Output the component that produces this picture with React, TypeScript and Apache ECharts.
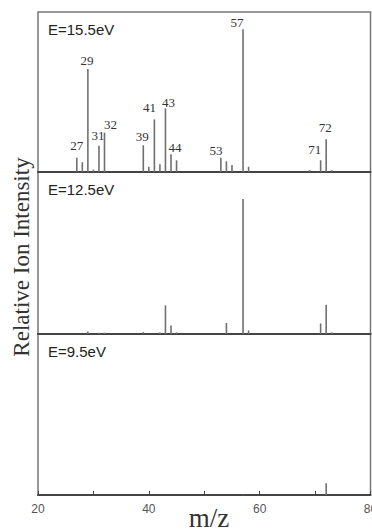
import React, { useEffect, useRef } from "react";
import * as echarts from "echarts";

// m/z values and relative intensities (% of panel height)
const mz155 = [27, 28, 29, 30, 31, 32, 39, 40, 41, 42, 43, 44, 45, 53, 54, 55, 57, 58, 69, 71, 72, 73];
const int155 = [8.9, 6.1, 64.4, 1.5, 16.4, 24.6, 16.7, 3.3, 32.9, 4.8, 39.8, 11.1, 7.3, 8.9, 6.7, 4.4, 89.2, 3.3, 1.2, 7.3, 20.4, 1.2];
const labeled155 = [27, 29, 31, 32, 39, 41, 43, 44, 53, 57, 71, 72];

const mz125 = [29, 31, 32, 39, 42, 43, 44, 45, 54, 57, 58, 71, 72, 73];
const int125 = [1.5, 0.8, 0.8, 1.2, 1.0, 17.7, 5.3, 1.0, 6.8, 83.3, 2.2, 6.5, 18.1, 1.0];

const mz95 = [57, 72];
const int95 = [0.5, 7.3];

const panelNames = ["E=15.5eV", "E=12.5eV", "E=9.5eV"];
const xTicks = [20, 40, 60, 80];

// label nudges [dx, dy] in px
const labelNudge: Record<number, [number, number]> = {
  27: [0, -6], 29: [-1, -2], 31: [-1, -4], 32: [6, -2], 39: [-1, -2], 41: [-5, -5],
  43: [3, 1], 44: [4, 0], 53: [-5, -1], 57: [-6, 0], 71: [-6, -4], 72: [-1, -5],
};

export default function App() {
  const ref = useRef<HTMLDivElement>(null);
  useEffect(() => {
    if (!ref.current) return;
    const chart = echarts.init(ref.current, undefined, { renderer: "svg" });
    const tops = [12, 172, 334];
    const heights = [160, 162, 161];
    const grids = tops.map((t, i) => ({
      left: 38,
      right: 1.5,
      top: t,
      height: heights[i],
      show: true,
      borderColor: "#777",
      borderWidth: 1.5,
      containLabel: false,
      outerBoundsMode: "none",
    }));
    const xAxes = [0, 1, 2].map((i) => ({
      type: "value",
      gridIndex: i,
      min: xTicks[0],
      max: xTicks[xTicks.length - 1],
      interval: 20,
      axisLine: { show: true, onZero: false, lineStyle: { color: "#444", width: 2 } },
      axisTick: i === 2 ? { show: true, inside: true, length: 4, lineStyle: { color: "#444" } } : { show: false },
      minorTick: i === 2 ? { show: true, inside: true, splitNumber: 2, length: 4, lineStyle: { color: "#444" } } : { show: false },
      axisLabel: i === 2
        ? { show: true, color: "#555", fontSize: 12, margin: 8, fontFamily: "Liberation Sans, Arial, sans-serif", showMaxLabel: true, hideOverlap: false }
        : { show: false },
      splitLine: { show: false },
    }));
    const yAxes = [0, 1, 2].map((i) => ({
      type: "value",
      gridIndex: i,
      min: 0,
      max: 100,
      show: false,
    }));
    const mk = (mz: number[], ints: number[], labeled: number[]) =>
      mz.map((m, k) => {
        const item: any = { value: [m, ints[k]] };
        if (labeled.indexOf(m) >= 0) {
          item.label = { show: true, offset: labelNudge[m] || [0, 0] };
        }
        return item;
      });
    const seriesBase = {
      type: "bar",
      barWidth: 1.6,
      itemStyle: { color: "#707070" },
      label: {
        show: false,
        position: "top",
        distance: 0,
        color: "#333",
        fontSize: 13,
        fontFamily: "Liberation Serif, Times New Roman, serif",
        formatter: (p: any) => String(p.value[0]),
      },
    };
    chart.setOption({
      animation: false,
      grid: grids,
      xAxis: xAxes,
      yAxis: yAxes,
      series: [
        { ...seriesBase, xAxisIndex: 0, yAxisIndex: 0, data: mk(mz155, int155, labeled155) },
        { ...seriesBase, xAxisIndex: 1, yAxisIndex: 1, data: mk(mz125, int125, []) },
        { ...seriesBase, xAxisIndex: 2, yAxisIndex: 2, data: mk(mz95, int95, []) },
      ],
      graphic: [
        ...panelNames.map((t, i) => ({
          type: "text",
          left: 48,
          top: tops[i] + 10,
          style: {
            text: t,
            fill: "#222",
            fontSize: 15,
            fontFamily: "Liberation Sans, Arial, sans-serif",
          },
        })),
        {
          type: "text",
          x: 21,
          y: 257,
          rotation: Math.PI / 2,
          style: {
            text: "Relative Ion Intensity",
            fill: "#333",
            fontSize: 23,
            fontFamily: "Liberation Serif, Times New Roman, serif",
            align: "center",
            verticalAlign: "middle",
          },
        },
        {
          type: "text",
          x: 209,
          y: 518,
          style: {
            text: "m/z",
            fill: "#333",
            fontSize: 27,
            fontFamily: "Liberation Serif, Times New Roman, serif",
            align: "center",
            verticalAlign: "middle",
          },
        },
      ],
    });
    return () => chart.dispose();
  }, []);
  return (
    <div
      ref={ref}
      style={{ position: "absolute", left: 0, top: 0, width: 372, height: 529 }}
    />
  );
}
